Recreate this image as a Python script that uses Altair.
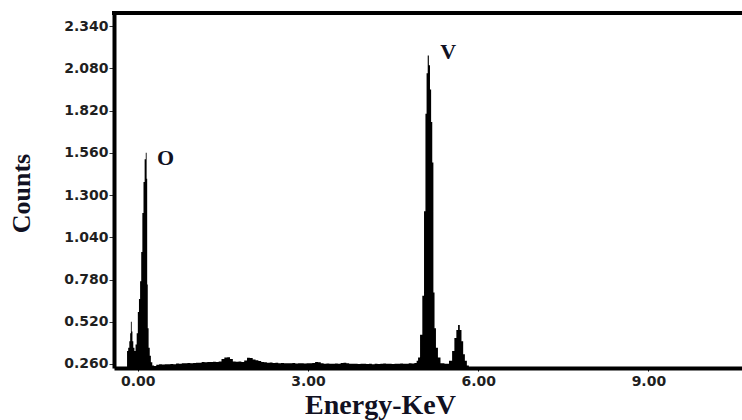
import altair as alt
import pandas as pd

# Spectrum (energy in keV, counts)
energy = [
    -0.20, -0.18, -0.16, -0.14, -0.13, -0.115, -0.10, -0.09, -0.07, -0.05, -0.03, -0.01,
    0.01, 0.03, 0.05, 0.07, 0.09, 0.11, 0.13, 0.15, 0.16, 0.17, 0.18, 0.20, 0.22, 0.24,
    0.27, 0.30, 0.35, 0.40, 0.45, 0.50, 0.55, 0.60, 0.65, 0.70, 0.75, 0.80, 0.85, 0.90,
    0.95, 1.00, 1.05, 1.10, 1.15, 1.20, 1.25, 1.30, 1.35, 1.40, 1.45, 1.50, 1.55, 1.60,
    1.65, 1.70, 1.75, 1.80, 1.85, 1.90, 1.95, 2.00, 2.05, 2.10, 2.15, 2.20, 2.25, 2.30,
    2.35, 2.40, 2.45, 2.50, 2.55, 2.60, 2.65, 2.70, 2.75, 2.80, 2.85, 2.90, 2.95, 3.00,
    3.05, 3.10, 3.15, 3.20, 3.25, 3.30, 3.35, 3.40, 3.45, 3.50, 3.55, 3.60, 3.65, 3.70,
    3.75, 3.80, 3.85, 3.90, 3.95, 4.00, 4.05, 4.10, 4.15, 4.20, 4.25, 4.30, 4.35, 4.40,
    4.45, 4.50, 4.55, 4.60, 4.65, 4.70, 4.75, 4.80, 4.85, 4.90,
    4.93, 4.95, 5.00, 5.03, 5.06, 5.08, 5.10, 5.12, 5.14, 5.16, 5.18, 5.20, 5.22, 5.24,
    5.27, 5.31, 5.36, 5.45, 5.52, 5.56, 5.60, 5.63, 5.66, 5.69, 5.72, 5.75, 5.78, 5.82,
    5.85,
]
counts = [
    0.236, 0.34, 0.36, 0.40, 0.45, 0.52, 0.46, 0.40, 0.36, 0.34, 0.38, 0.45,
    0.58, 0.66, 0.77, 0.95, 1.19, 1.38, 1.52, 1.56, 1.40, 0.75, 0.48, 0.36, 0.31, 0.27,
    0.250, 0.248, 0.256, 0.258, 0.257, 0.259, 0.258, 0.260, 0.259, 0.263, 0.262, 0.265, 0.264, 0.266,
    0.264, 0.266, 0.268, 0.267, 0.272, 0.271, 0.273, 0.272, 0.274, 0.273, 0.276, 0.290, 0.300, 0.301,
    0.290, 0.276, 0.274, 0.275, 0.273, 0.282, 0.298, 0.297, 0.288, 0.283, 0.278, 0.272, 0.270, 0.268,
    0.269, 0.266, 0.267, 0.265, 0.266, 0.264, 0.265, 0.264, 0.266, 0.263, 0.265, 0.264, 0.263, 0.265,
    0.264, 0.266, 0.273, 0.270, 0.264, 0.262, 0.263, 0.262, 0.261, 0.263, 0.262, 0.266, 0.268, 0.265,
    0.262, 0.261, 0.262, 0.260, 0.261, 0.262, 0.260, 0.261, 0.259, 0.261, 0.260, 0.262, 0.263, 0.261,
    0.262, 0.260, 0.261, 0.262, 0.263, 0.261, 0.262, 0.264, 0.263, 0.266,
    0.28, 0.30, 0.44, 0.68, 1.20, 1.80, 2.05, 2.16, 2.10, 1.95, 1.75, 1.50, 0.70, 0.48,
    0.36, 0.30, 0.265, 0.262, 0.28, 0.34, 0.42, 0.47, 0.50, 0.47, 0.40, 0.32, 0.28, 0.25,
    0.236,
]

x_ticks = [0, 3, 6, 9]
y_ticks = [0.26, 0.52, 0.78, 1.04, 1.30, 1.56, 1.82, 2.08, 2.34]

peak_labels = ["O", "V"]
peak_x = [0.49, 5.47]
peak_y = [1.53, 2.18]

spec = pd.DataFrame({"energy": energy, "counts": counts})
labels = pd.DataFrame({"label": peak_labels, "x": peak_x, "y": peak_y})

W, H = 628, 355
x_dom = [-0.42, 10.65]
y_dom = [0.2353, 2.421]

tick_font = "DejaVu Sans"

x_enc = alt.X(
    "energy:Q",
    scale=alt.Scale(domain=x_dom, nice=False, zero=False),
    axis=alt.Axis(
        values=x_ticks, format=".2f", title="Energy-KeV", grid=False,
        domainColor="black", domainWidth=4, tickColor="black", tickSize=3,
        labelFont=tick_font, labelFontWeight="bold", labelFontSize=14, labelColor="#1f1f1f",
        labelPadding=3,
        titleFont="Liberation Serif", titleFontWeight="bold", titleFontSize=28, titleColor="#111122",
        titleX=266, titleY=45, titleAlign="center", titleBaseline="alphabetic",
    ),
)
y_enc = alt.Y(
    "counts:Q",
    scale=alt.Scale(domain=y_dom, nice=False, zero=False),
    axis=alt.Axis(
        values=y_ticks, format=".3f", title="Counts", grid=False,
        domainColor="black", domainWidth=4, tickColor="#333", tickSize=5,
        labelFont=tick_font, labelFontWeight="bold", labelFontSize=14, labelColor="#1f1f1f",
        labelPadding=1,
        titleFont="Liberation Serif", titleFontWeight="bold", titleFontSize=26, titleColor="#111122",
        titleX=-93, titleY=180, titleAlign="center", titleBaseline="middle", titleAngle=270,
    ),
)

area = alt.Chart(spec).mark_area(color="black", clip=True, interpolate="step").encode(
    x=x_enc, y=y_enc
)

text = alt.Chart(labels).mark_text(
    font="Liberation Serif", fontWeight="bold", fontSize=22, color="#111122",
    align="center", baseline="middle",
).encode(
    x=alt.X("x:Q", scale=alt.Scale(domain=x_dom, nice=False, zero=False)),
    y=alt.Y("y:Q", scale=alt.Scale(domain=y_dom, nice=False, zero=False)),
    text="label:N",
)

top_line = alt.Chart(labels).mark_rule(color="black", strokeWidth=4).encode(
    x=alt.value(-2), x2=alt.value(W), y=alt.value(0)
)

chart = alt.layer(area, text, top_line).properties(
    width=W, height=H,
    autosize=alt.AutoSizeParams(type="none"),
    padding={"left": 114, "top": 13, "right": 0, "bottom": 52},
).configure_view(stroke=None).configure(background="white")

chart.save("out.html", embed_options={"renderer": "svg", "actions": False})
